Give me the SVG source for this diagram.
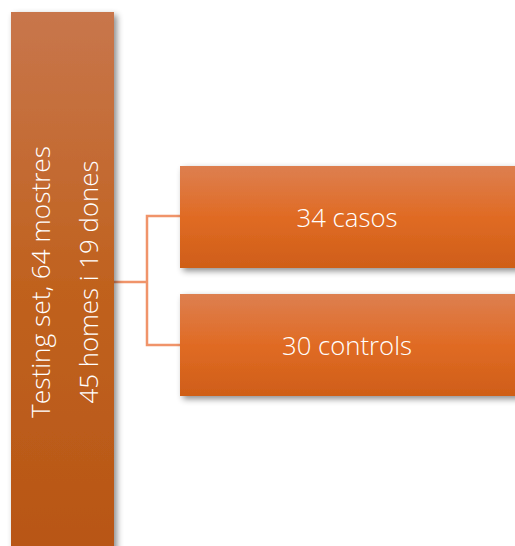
<svg xmlns="http://www.w3.org/2000/svg" width="515" height="546" viewBox="0 0 515 546">
<style>
.t{font-family:"Open Sans","Liberation Sans",sans-serif;font-weight:300;fill:#ffffff;font-size:25px;text-anchor:middle;dominant-baseline:central}
.c{fill:none;stroke:#f0946a;stroke-width:2.5}
</style>
<defs>
<linearGradient id="gL" x1="0" y1="0" x2="0" y2="1">
<stop offset="0" stop-color="#c8764c"/>
<stop offset="0.5" stop-color="#c0621f"/>
<stop offset="1" stop-color="#b85616"/>
</linearGradient>
<linearGradient id="gB" x1="0" y1="0" x2="0" y2="1">
<stop offset="0" stop-color="#dd7f50"/>
<stop offset="0.5" stop-color="#e06b24"/>
<stop offset="1" stop-color="#cf5e18"/>
</linearGradient>
<filter id="sh" x="-20%" y="-20%" width="150%" height="150%">
<feDropShadow dx="3" dy="3" stdDeviation="3" flood-color="#000000" flood-opacity="0.45"/>
</filter>
</defs>
<g id="connectors">
<path class="c" d="M114 282H147"/>
<path class="c" d="M180 216H147V345H180"/>
</g>
<g id="root">
<rect x="11" y="12" width="103" height="540" fill="url(#gL)" filter="url(#sh)"/>
<text class="t" transform="translate(40 282) rotate(-90)" textLength="272" lengthAdjust="spacingAndGlyphs">Testing set, 64 mostres</text>
<text class="t" transform="translate(88 282) rotate(-90)" textLength="243" lengthAdjust="spacingAndGlyphs">45 homes i 19 dones</text>
</g>
<g id="casos">
<rect x="180" y="166" width="340" height="102" fill="url(#gB)" filter="url(#sh)"/>
<text class="t" x="347" y="217" textLength="101" lengthAdjust="spacingAndGlyphs">34 casos</text>
</g>
<g id="controls">
<rect x="180" y="294" width="340" height="102" fill="url(#gB)" filter="url(#sh)"/>
<text class="t" x="347" y="345" textLength="130" lengthAdjust="spacingAndGlyphs">30 controls</text>
</g>
</svg>
